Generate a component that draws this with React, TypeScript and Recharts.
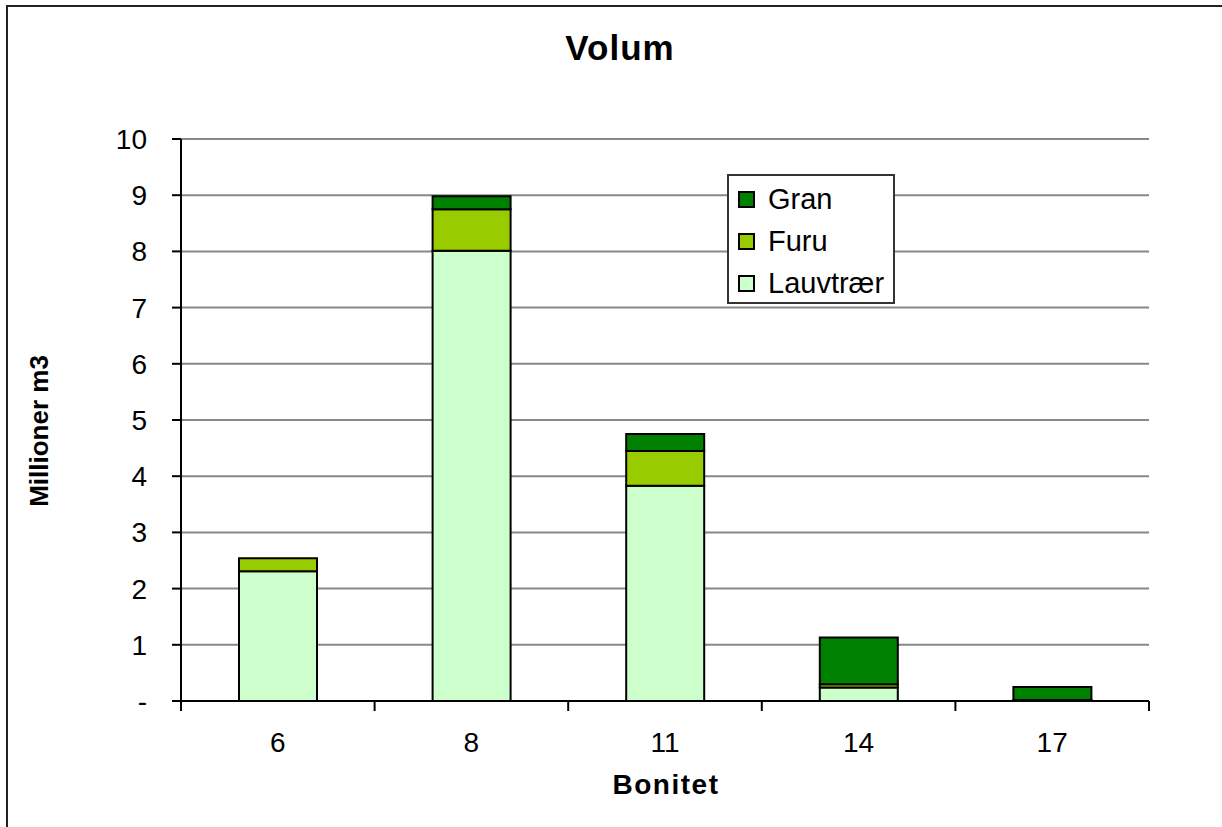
import React from "react";
import { BarChart, Bar, XAxis, YAxis, CartesianGrid } from "recharts";

const categories = ["6", "8", "11", "14", "17"];
const seriesNames = ["Lauvtrær", "Furu", "Gran"];
const lauvtraer = [2.31, 8.01, 3.83, 0.24, 0.01];
const furu = [0.23, 0.74, 0.62, 0.06, 0.01];
const gran = [0, 0.23, 0.3, 0.83, 0.23];
const yTicks = [0, 1, 2, 3, 4, 5, 6, 7, 8, 9, 10];
const colors = ["#CCFFCC", "#99CC00", "#008000"];

const W = 1222;
const H = 827;
const margin = { top: 139, right: 73, bottom: 125, left: 6 };
const yAxisW = 175;
const plotW = W - margin.left - margin.right - yAxisW;
const band = plotW / categories.length;
const font = "'Liberation Sans', Arial, sans-serif";

const data = categories.map((c, i) => ({
  name: c,
  [seriesNames[0]]: lauvtraer[i],
  [seriesNames[1]]: furu[i],
  [seriesNames[2]]: gran[i],
}));

function XTick(props: any) {
  const { x, y, payload, index } = props;
  const left = x - band / 2;
  const right = x + band / 2;
  return (
    <g>
      <line x1={left} y1={y} x2={left} y2={y + 10} stroke="#000" strokeWidth={2} />
      {index === categories.length - 1 && (
        <line x1={right} y1={y} x2={right} y2={y + 10} stroke="#000" strokeWidth={2} />
      )}
      <text
        x={x}
        y={y + 51}
        textAnchor="middle"
        fontSize={28}
        fontFamily={font}
        fill="#000"
      >
        {payload.value}
      </text>
    </g>
  );
}

// legend lists the series top-down in reverse stacking order, like Excel
function LegendBox() {
  const order = seriesNames.map((n, i) => ({ name: n, color: colors[i] })).reverse();
  return (
    <div
      style={{
        position: "absolute",
        left: 727,
        top: 174,
        width: 164,
        height: 124,
        border: "2px solid #333",
        background: "#fff",
        paddingTop: 2,
        boxSizing: "content-box",
      }}
    >
      {order.map((it) => (
        <div
          key={it.name}
          style={{
            display: "flex",
            alignItems: "center",
            height: 42,
            paddingLeft: 9,
          }}
        >
          <span
            style={{
              display: "inline-block",
              width: 13,
              height: 13,
              background: it.color,
              border: "2px solid #000",
              marginRight: 13,
            }}
          />
          <span style={{ fontFamily: font, fontSize: 29, color: "#000" }}>
            {it.name}
          </span>
        </div>
      ))}
    </div>
  );
}

export default function App() {
  return (
    <div
      style={{
        position: "absolute",
        left: 0,
        top: 0,
        width: W,
        height: H,
        background: "#fff",
        overflow: "hidden",
      }}
    >
      <div
        style={{
          position: "absolute",
          left: 6,
          top: 5,
          width: W,
          height: H,
          borderLeft: "2px solid #222",
          borderTop: "2px solid #222",
        }}
      />
      <div
        style={{
          position: "absolute",
          left: 0,
          width: 1240,
          top: 28,
          textAlign: "center",
          fontFamily: font,
          fontWeight: "bold",
          fontSize: 35,
          letterSpacing: 1,
        }}
      >
        Volum
      </div>
      <div
        style={{
          position: "absolute",
          left: 39,
          top: 431,
          transform: "translate(-50%, -50%) rotate(-90deg)",
          whiteSpace: "nowrap",
          fontFamily: font,
          fontWeight: "bold",
          fontSize: 26,
        }}
      >
        Millioner m3
      </div>
      <div
        style={{
          position: "absolute",
          left: 666,
          top: 785,
          transform: "translate(-50%, -50%)",
          whiteSpace: "nowrap",
          fontFamily: font,
          fontWeight: "bold",
          fontSize: 28,
          letterSpacing: 1.5,
        }}
      >
        Bonitet
      </div>
      <div style={{ position: "absolute", left: 0, top: 0 }}>
        <BarChart width={W} height={H} data={data} margin={margin} barSize={78}>
          <CartesianGrid
            vertical={false}
            stroke="#888"
            strokeWidth={2}
            yAxisId="left"
          />
          <XAxis
            dataKey="name"
            axisLine={{ stroke: "#000", strokeWidth: 2 }}
            tickLine={false}
            tickSize={0}
            tickMargin={0}
            height={1}
            tick={<XTick />}
            interval={0}
          />
          <YAxis
            yAxisId="left"
            width={yAxisW}
            domain={[0, 10]}
            ticks={yTicks}
            interval={0}
            axisLine={{ stroke: "#000", strokeWidth: 2 }}
            tickLine={{ stroke: "#000", strokeWidth: 2 }}
            tickSize={9}
            tickMargin={25}
            tickFormatter={(v: number) => (v === 0 ? "-" : String(v))}
            tick={{ fill: "#000", fontSize: 28, fontFamily: font }}
          />
          <YAxis
            yAxisId="right"
            orientation="right"
            width={0}
            domain={[0, 10]}
            axisLine={{ stroke: "#888", strokeWidth: 3 }}
            tick={false}
            tickLine={false}
          />
          {seriesNames.map((s, i) => (
            <Bar
              key={s}
              dataKey={s}
              stackId="a"
              yAxisId="left"
              fill={colors[i]}
              stroke="#000"
              strokeWidth={2}
              isAnimationActive={false}
            />
          ))}
        </BarChart>
      </div>
      <LegendBox />
    </div>
  );
}
